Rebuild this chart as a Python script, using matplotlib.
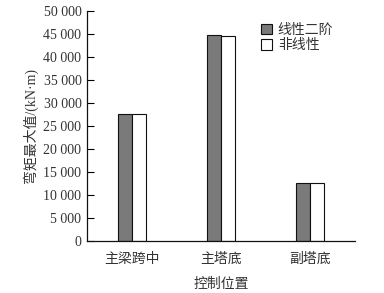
import matplotlib
matplotlib.use("Agg")
import matplotlib.pyplot as plt
import numpy as np

categories = ["主梁跨中", "主塔底", "副塔底"]
linear2 = [27500, 44800, 12700]
nonlinear = [27700, 44500, 12500]
series_names = ["线性二阶", "非线性"]
yticks = [0, 5000, 10000, 15000, 20000, 25000, 30000, 35000, 40000, 45000, 50000]
ytick_labels = ["0", "5 000", "10 000", "15 000", "20 000", "25 000", "30 000",
                "35 000", "40 000", "45 000", "50 000"]

cjk = ["Noto Sans CJK SC", "DejaVu Sans"]
serif = ["Liberation Serif", "DejaVu Serif"]
mixed = ["Liberation Serif", "Noto Sans CJK SC"]
tc = "#333333"

fig = plt.figure(figsize=(3.84, 2.93), dpi=100)
ax = fig.add_axes([0.2266, 0.1775, 0.698, 0.785])

x = np.arange(len(categories))
w = 0.157
ax.bar(x - w / 2, linear2, w, color="#7a7a7a", edgecolor="#111111", linewidth=0.8, label=series_names[0])
ax.bar(x + w / 2, nonlinear, w, color="white", edgecolor="#111111", linewidth=0.8, label=series_names[1])

ax.set_xlim(-0.5, 2.5)
ax.set_ylim(0, 50000)
ax.set_yticks(yticks)
ax.set_yticklabels(ytick_labels, fontfamily=serif, fontsize=10, color=tc)
ax.set_xticks(x)
ax.set_xticklabels(categories, fontfamily=cjk, fontsize=10, color=tc)
ax.tick_params(axis="y", direction="in", length=5, width=0.8, pad=4)
ax.tick_params(axis="x", length=0, pad=8)
for s in ["top", "right"]:
    ax.spines[s].set_visible(False)
for s in ["left", "bottom"]:
    ax.spines[s].set_linewidth(0.9)
    ax.spines[s].set_color("#111111")

ax.set_xlabel("控制位置", fontfamily=cjk, fontsize=10, color=tc, labelpad=8)
ax.set_ylabel("弯矩最大值/(kN·m)", fontfamily=mixed, fontsize=10, color=tc, labelpad=4)

leg = ax.legend(loc="upper right", bbox_to_anchor=(0.95, 0.985), frameon=False,
                prop={"family": cjk, "size": 10}, handlelength=0.8, handleheight=0.8,
                handletextpad=0.4, labelspacing=0.1, borderaxespad=0.2)
for t in leg.get_texts():
    t.set_color(tc)

fig.savefig("out.png", dpi=100)
